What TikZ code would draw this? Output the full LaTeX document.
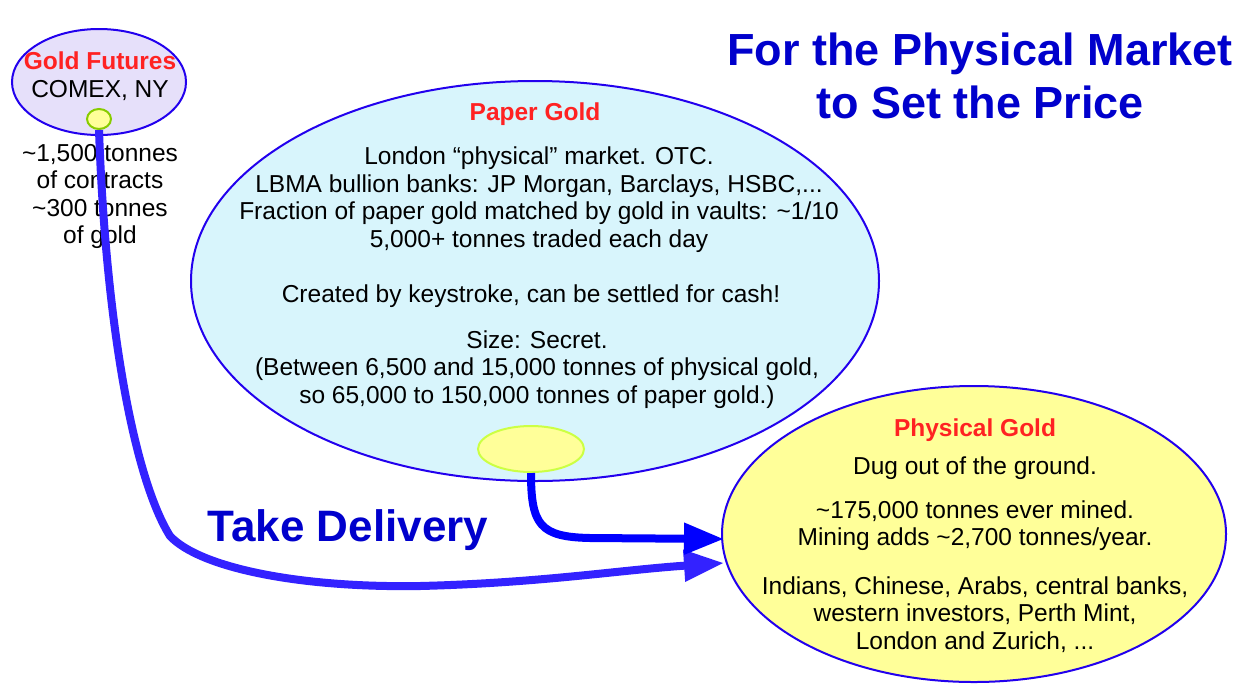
\documentclass[tikz,border=0pt]{standalone}
\usepackage{fontspec}
\setmainfont{Liberation Sans}
\usetikzlibrary{shapes.geometric,arrows.meta}
\definecolor{edgeblue}{HTML}{2200EE}
\definecolor{titleblue}{HTML}{0000CC}
\definecolor{labelred}{HTML}{FF2222}
\definecolor{lav}{HTML}{E6E0FA}
\definecolor{paperfill}{HTML}{D8F5FC}
\definecolor{goldfill}{HTML}{FFFF99}
\definecolor{wireA}{HTML}{3322FF}
\definecolor{wireB}{HTML}{0000FF}
\definecolor{portA}{HTML}{88CC00}
\definecolor{portB}{HTML}{CCFF44}
\begin{document}
\begin{tikzpicture}[x=1pt,y=-1pt,
  blob/.style={ellipse, draw=edgeblue, line width=2pt, inner sep=0pt},
  port/.style={ellipse, line width=2pt, fill=goldfill, inner sep=0pt},
  body/.style={font=\fontsize{24.5}{27.6}\selectfont, align=center, inner sep=0pt, yshift=-2.5pt},
  head/.style={body, font=\fontsize{24.5}{27.6}\selectfont\bfseries, text=labelred},
  big/.style={font=\fontsize{45}{53}\selectfont\bfseries, text=titleblue, align=center, inner sep=0pt},
  wire/.style={line width=8pt, -{Triangle[length=40pt,width=30pt]}},
]
\fill[white] (0,0) rectangle (1238,683);
\useasboundingbox (0,0) rectangle (1238,683);

% ellipses
\node[blob, fill=lav, minimum width=174pt, minimum height=106pt] (gf) at (99,82) {};
\node[port, draw=portA, minimum width=24pt, minimum height=20pt] (gfport) at (99,119) {};
\node[blob, fill=paperfill, minimum width=688pt, minimum height=400pt] (pg) at (535,281) {};
\node[port, draw=portB, minimum width=106pt, minimum height=46pt] (pgport) at (531,449) {};
\node[blob, fill=goldfill, minimum width=504pt, minimum height=296pt] (phys) at (974,534) {};

% texts: gold futures
\node[head] (gft) at (100,58) {Gold Futures};
\node[body] (gfc) at (100,88) {COMEX, NY};
\node[body] (gfs) at (100,194) {\textasciitilde1,500 tonnes\\of contracts\\\textasciitilde300 tonnes\\of gold};

% texts: paper gold
\node[head] (pgt) at (535,112) {Paper Gold};
\node[body] (pga) at (539,197) {London \textquotedblleft physical\textquotedblright{} market. OTC.\\LBMA bullion banks: JP Morgan, Barclays, HSBC,...\\Fraction of paper gold matched by gold in vaults: \textasciitilde1/10\\5,000+ tonnes traded each day};
\node[body] (pgb) at (531,294) {Created by keystroke, can be settled for cash!};
\node[body] (pgc) at (537,367) {Size: Secret.\\(Between 6,500 and 15,000 tonnes of physical gold,\\so 65,000 to 150,000 tonnes of paper gold.)};

% texts: physical gold
\node[head] (pht) at (975,428) {Physical Gold};
\node[body] (pha) at (975,466) {Dug out of the ground.};
\node[body] (phb) at (975,523) {\textasciitilde175,000 tonnes ever mined.\\Mining adds \textasciitilde2,700 tonnes/year.};
\node[body] (phc) at (975,612) {Indians, Chinese, Arabs, central banks,\\western investors, Perth Mint,\\London and Zurich, ...};

% titles
\node[big] (title) at (980,76) {For the Physical Market\\to Set the Price};
\node[big, font=\fontsize{44}{52}\selectfont\bfseries] (take) at (348,530) {Take Delivery};

% connectors
\coordinate (t1) at (724,563);
\coordinate (t2) at (724,539);
\draw[wire, wireA] (gfport.south) .. controls (106,330) and (135,480) .. (170,536)
  .. controls (200,568) and (300,588) .. (420,586)
  .. controls (540,583) and (620,570) .. (t1);
\draw[wire, wireB] (pgport.south) .. controls (531,525) and (540,537) .. (590,538) -- (t2);
\end{tikzpicture}
\end{document}
